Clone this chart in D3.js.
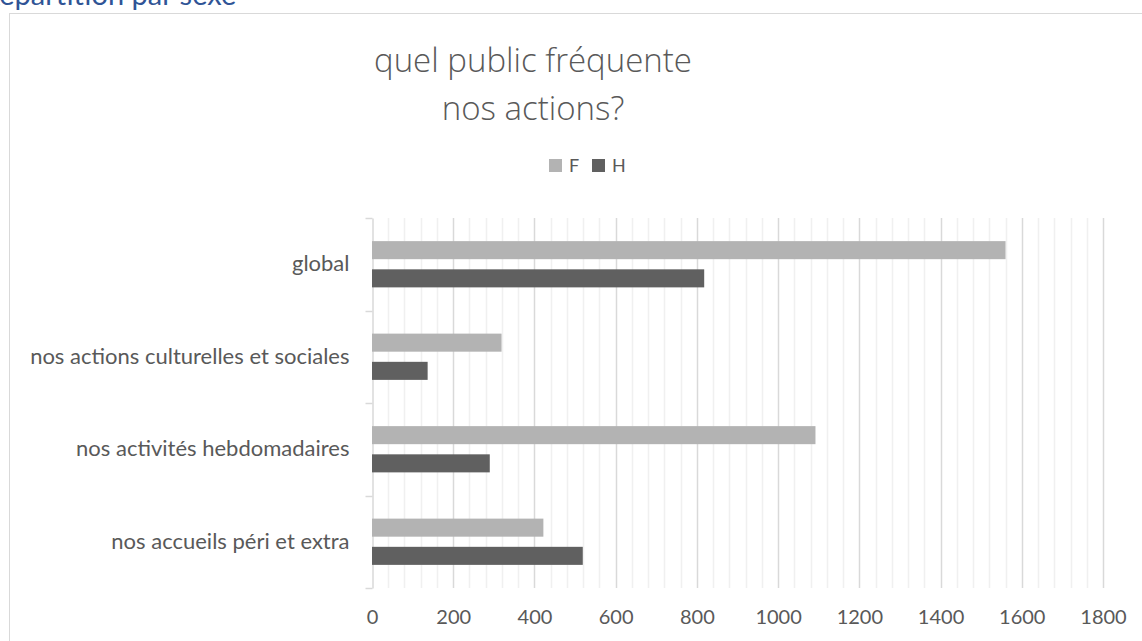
<!DOCTYPE html>
<html>
<head>
<meta charset="utf-8">
<script src="https://cdn.jsdelivr.net/npm/d3@7"></script>
<style>
  body { margin: 0; background: #fff; overflow: hidden; }
  svg { display: block; font-family: Lato, "Open Sans", sans-serif; }
</style>
</head>
<body>
<div class="chart"></div>
<script>
const categories = ["global", "nos actions culturelles et sociales", "nos activités hebdomadaires", "nos accueils péri et extra"];
const seriesNames = ["F", "H"];
const valuesF = [1560, 319, 1092, 422];
const valuesH = [818, 137, 290, 519];
const xTicks = [0, 200, 400, 600, 800, 1000, 1200, 1400, 1600, 1800];
const titleLines = ["quel public fréquente", "nos actions?"];

document.addEventListener("DOMContentLoaded", function () {
    const w = 1142,
        h = 641,
        font = "Lato, 'Open Sans', sans-serif",
        colors = {F: "#b3b3b3", H: "#606060"},
        textColor = "#595959";

    const dataset = categories.map((c, i) => ({cat: c, F: valuesF[i], H: valuesH[i]}));

    const svg = d3.select(".chart")
        .append("svg")
        .attr("width", w)
        .attr("height", h);

    // heading of the page, cut off at the top
    svg.append("text")
        .attr("x", -18)
        .attr("y", 5)
        .attr("fill", "#2f5496")
        .style("font-size", "29px")
        .text("Répartition par sexe");

    // chart frame
    svg.append("rect")
        .attr("x", 9.5)
        .attr("y", 13.5)
        .attr("width", w + 20)
        .attr("height", h + 20)
        .attr("fill", "none")
        .attr("stroke", "#d9d9d9");

    const xScale = d3.scaleLinear()
        .domain([0, 1800])
        .range([372, 1103]);

    const yScale = d3.scaleBand()
        .domain(categories)
        .range([218, 588]);

    const inner = d3.scaleBand()
        .domain(seriesNames)
        .range([0, yScale.bandwidth()])
        .paddingInner(0.36)
        .paddingOuter(0.82);

    // minor + major gridlines
    svg.append("g")
        .selectAll("line")
        .data(d3.range(40, 1801, 40))
        .enter()
        .append("line")
        .attr("x1", d => Math.round(xScale(d)) + 0.5)
        .attr("x2", d => Math.round(xScale(d)) + 0.5)
        .attr("y1", 218)
        .attr("y2", 588)
        .attr("stroke", d => d % 200 === 0 ? "#d9d9d9" : "#f0f0f0")
        .attr("stroke-width", 1.5);

    // category axis
    const yAxis = d3.axisLeft(yScale).tickSize(0).tickPadding(23);
    const yg = svg.append("g")
        .attr("id", "y-axis")
        .attr("transform", "translate(" + (Math.round(xScale(0)) + 0.5) + ",0)")
        .call(yAxis)
        .attr("font-family", font);
    yg.select(".domain").attr("stroke", "#d9d9d9").attr("stroke-width", 1.5);
    yg.selectAll("text")
        .attr("fill", textColor)
        .style("font-size", "22px");
    yg.selectAll(".sep")
        .data(categories.map(c => yScale(c)).concat([yScale.range()[1]]))
        .enter()
        .append("line")
        .attr("class", "sep")
        .attr("x1", -7)
        .attr("x2", 0)
        .attr("y1", d => Math.round(d) + 0.5)
        .attr("y2", d => Math.round(d) + 0.5)
        .attr("stroke", "#d9d9d9")
        .attr("stroke-width", 1.5);

    // bars
    const groups = svg.selectAll(".cat")
        .data(dataset)
        .enter()
        .append("g")
        .attr("class", "cat")
        .attr("transform", d => "translate(0," + yScale(d.cat) + ")");

    groups.selectAll("rect")
        .data(d => seriesNames.map(s => ({s: s, v: d[s]})))
        .enter()
        .append("rect")
        .attr("class", "bar")
        .attr("x", xScale(0))
        .attr("y", d => inner(d.s))
        .attr("width", d => xScale(d.v) - xScale(0))
        .attr("height", inner.bandwidth())
        .attr("fill", d => colors[d.s]);

    // value axis
    const xAxis = d3.axisBottom(xScale).tickValues(xTicks).tickFormat(d3.format("d")).tickSize(0).tickPadding(22);
    const xg = svg.append("g")
        .attr("id", "x-axis")
        .attr("transform", "translate(0,588)")
        .call(xAxis)
        .attr("font-family", font);
    xg.select(".domain").remove();
    xg.selectAll("text")
        .attr("fill", textColor)
        .style("font-size", "20px");

    // title
    svg.append("text")
        .attr("text-anchor", "middle")
        .attr("fill", textColor)
        .style("font-family", "'Open Sans', Lato, sans-serif")
        .style("font-size", "33px")
        .style("font-weight", "300")
        .selectAll("tspan")
        .data(titleLines)
        .enter()
        .append("tspan")
        .attr("x", 533)
        .attr("y", (d, i) => 72 + i * 48)
        .text(d => d);

    // legend
    const legend = svg.append("g")
        .attr("transform", "translate(549,159)")
        .selectAll("g")
        .data(seriesNames)
        .enter()
        .append("g")
        .attr("transform", (d, i) => "translate(" + i * 43 + ",0)");
    legend.append("rect")
        .attr("width", 13)
        .attr("height", 13)
        .attr("fill", d => colors[d]);
    legend.append("text")
        .attr("x", 20)
        .attr("y", 13)
        .attr("fill", textColor)
        .style("font-size", "18px")
        .text(d => d);
});
</script>
</body>
</html>
